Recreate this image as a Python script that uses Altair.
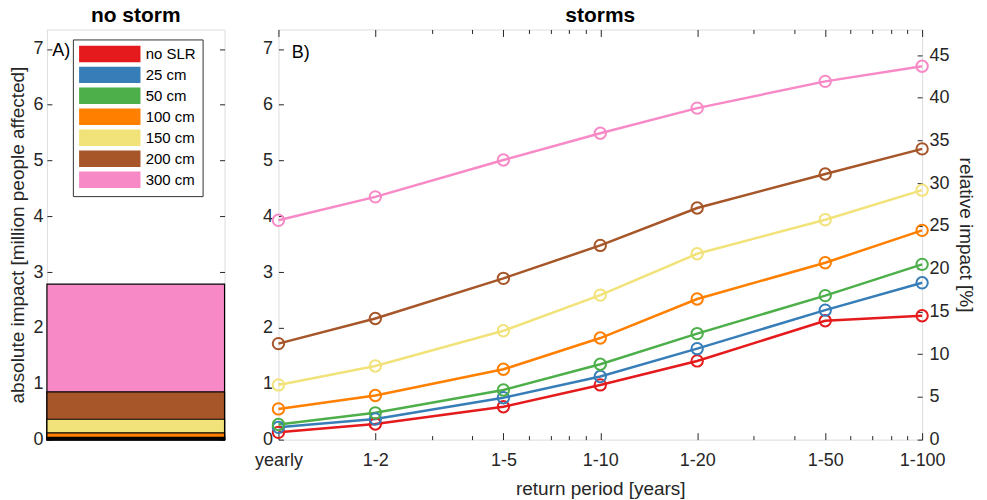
import altair as alt
import pandas as pd

scenarios = ["no SLR", "25 cm", "50 cm", "100 cm", "150 cm", "200 cm", "300 cm"]
colors = ["#e41a1c", "#377eb8", "#4daf4a", "#ff7f00", "#f2e27a", "#a65628", "#f78ac6"]
no_storm = [0.02, 0.03, 0.04, 0.12, 0.365, 0.855, 2.785]
periods = [1, 2, 5, 10, 20, 50, 100]
period_labels = ["yearly", "1-2", "1-5", "1-10", "1-20", "1-50", "1-100"]
minor_periods = [3, 4, 6, 7, 8, 9, 30, 40, 60, 70, 80, 90]
storm_no_slr = [0.13, 0.28, 0.59, 0.98, 1.41, 2.13, 2.22]
storm_25 = [0.22, 0.37, 0.75, 1.13, 1.63, 2.32, 2.81]
storm_50 = [0.27, 0.48, 0.89, 1.35, 1.90, 2.58, 3.14]
storm_100 = [0.55, 0.79, 1.26, 1.82, 2.52, 3.17, 3.75]
storm_150 = [0.98, 1.32, 1.95, 2.59, 3.33, 3.94, 4.47]
storm_200 = [1.72, 2.17, 2.89, 3.48, 4.15, 4.76, 5.21]
storm_300 = [3.93, 4.35, 5.01, 5.49, 5.94, 6.42, 6.69]
abs_ticks = [0, 1, 2, 3, 4, 5, 6, 7]
rel_ticks = [0, 5, 10, 15, 20, 25, 30, 35, 40, 45]
ABS_MAX = 7.35
REL_MAX = 48.0

FONT = "Liberation Sans"
TXT = "#262626"

series = [storm_no_slr, storm_25, storm_50, storm_100, storm_150, storm_200, storm_300]
rows = []
for s, vals in zip(scenarios, series):
    for p, v in zip(periods, vals):
        rows.append({"scenario": s, "period": p, "value": v})
storm_df = pd.DataFrame(rows)

bar_df = pd.DataFrame({"scenario": scenarios, "value": no_storm})
bar_df = bar_df.sort_values("value", ascending=False).reset_index(drop=True)

color_scale = alt.Scale(domain=scenarios, range=colors)
y_abs = alt.Scale(domain=[0, ABS_MAX], nice=False, zero=True)
x_unit = alt.Scale(domain=[0, 1], nice=False, zero=False)

LW, RW, H = 178, 645, 411
TICK = 5


def inward(orient, values, labels=True, size=TICK, title=None, **kw):
    args = dict(
        orient=orient, values=values, tickSize=size, offset=-size, domain=False,
        ticks=True, tickColor=TXT, tickWidth=1, labels=labels, grid=False,
        labelFlush=False, labelOverlap=False,
        labelFont=FONT, labelFontSize=18, labelColor=TXT, labelPadding=4,
        titleFont=FONT, titleFontSize=19, titleFontWeight="normal", titleColor=TXT,
    )
    args["title"] = title
    args.update(kw)
    return alt.Axis(**args)


# ---------------- left panel -----------------
bars = alt.Chart(bar_df).mark_rect(stroke="black", strokeWidth=1.2).encode(
    x=alt.X(datum=0, scale=x_unit, axis=None), x2=alt.X2(datum=1),
    y=alt.Y("value:Q", scale=y_abs,
            axis=inward("left", abs_ticks, title="absolute impact [million people affected]",
                        titlePadding=5)),
    y2=alt.Y2(datum=0),
    fill=alt.Fill("scenario:N", scale=color_scale, sort=scenarios,
                  legend=alt.Legend(
                      orient="none", legendX=26, legendY=10, title=None,
                      direction="vertical",
                      symbolType="M-1,-1H7V1H-1Z", symbolSize=225,
                      symbolStrokeColor="black", symbolStrokeWidth=1.5,
                      symbolOpacity=1,
                      labelFont=FONT, labelFontSize=15, labelColor="black",
                      labelOffset=50, rowPadding=0,
                      fillColor="white", strokeColor="#333333", padding=6,
                  )),
)
left_mirror = alt.Chart(bar_df).mark_tick(opacity=0).encode(
    x=alt.X(datum=0.5, scale=x_unit, axis=None),
    y=alt.Y("value:Q", scale=y_abs, axis=inward("right", abs_ticks, labels=False)),
)
label_a = alt.Chart(pd.DataFrame({"t": ["A)"]})).mark_text(
    font=FONT, fontSize=18, color="black", align="left", baseline="middle"
).encode(text="t:N", x=alt.X(datum=0.03, scale=x_unit, axis=None),
         y=alt.value(22))

left = alt.layer(bars, left_mirror, label_a).resolve_axis(y="independent").properties(
    width=LW, height=H,
    title=alt.TitleParams("no storm", font=FONT, fontSize=21, fontWeight="bold",
                          color="black", offset=3),
)

# ---------------- right panel -----------------
x_log = alt.Scale(type="log", domain=[1, 100], nice=False)
label_expr = ("datum.value == 1 ? 'yearly' : (indexof([2,5,10,20,50,100], datum.value) >= 0 ? "
              "'1-' + datum.value : '')")

base = alt.Chart(storm_df)
lines = base.mark_line(strokeWidth=2.5).encode(
    x=alt.X("period:Q", scale=x_log,
            axis=inward("bottom", periods, title="return period [years]",
                        labelExpr=label_expr, size=7, labelPadding=12, titlePadding=10)),
    y=alt.Y("value:Q", scale=y_abs, axis=inward("left", abs_ticks, labelPadding=6)),
    color=alt.Color("scenario:N", scale=color_scale, sort=scenarios, legend=None),
    detail="scenario:N",
    order="period:Q",
)
points = base.mark_point(filled=False, size=130, strokeWidth=2, opacity=1).encode(
    x=alt.X("period:Q", scale=x_log, axis=None),
    y=alt.Y("value:Q", scale=y_abs, axis=None),
    color=alt.Color("scenario:N", scale=color_scale, sort=scenarios, legend=None),
)
minor_df = pd.DataFrame({"period": minor_periods})
bottom_minor = alt.Chart(minor_df).mark_tick(opacity=0).encode(
    x=alt.X("period:Q", scale=x_log, axis=inward("bottom", minor_periods, labels=False, size=4)),
)
top_major = alt.Chart(minor_df).mark_tick(opacity=0).encode(
    x=alt.X("period:Q", scale=x_log, axis=inward("top", periods, labels=False, size=7)),
)
top_minor = alt.Chart(minor_df).mark_tick(opacity=0).encode(
    x=alt.X("period:Q", scale=x_log, axis=inward("top", minor_periods, labels=False, size=4)),
)
rel_layer = alt.Chart(pd.DataFrame({"r": rel_ticks})).mark_tick(opacity=0).encode(
    x=alt.X(datum=10, scale=x_log, axis=None),
    y=alt.Y("r:Q", scale=alt.Scale(domain=[0, REL_MAX], nice=False),
            axis=inward("right", rel_ticks, title="relative impact [%]", labelPadding=7,
                        titlePadding=6)),
)
label_b = alt.Chart(pd.DataFrame({"t": ["B)"]})).mark_text(
    font=FONT, fontSize=18, color="black", align="left", baseline="middle"
).encode(text="t:N", x=alt.X(datum=1.1, scale=x_log, axis=None), y=alt.value(24))

right = alt.layer(
    lines, points, bottom_minor, top_major, top_minor, rel_layer, label_b
).resolve_scale(y="independent").resolve_axis(x="independent", y="independent").properties(
    width=RW, height=H,
    title=alt.TitleParams("storms", font=FONT, fontSize=21, fontWeight="bold",
                          color="black", offset=3),
)

chart = alt.hconcat(left, right, spacing=27).configure_view(
    stroke="black", strokeWidth=1
).configure(padding={"left": 0, "top": -4, "right": 4, "bottom": 0}, background="white")

chart.save("out.html", embed_options={"renderer": "svg", "actions": False})
